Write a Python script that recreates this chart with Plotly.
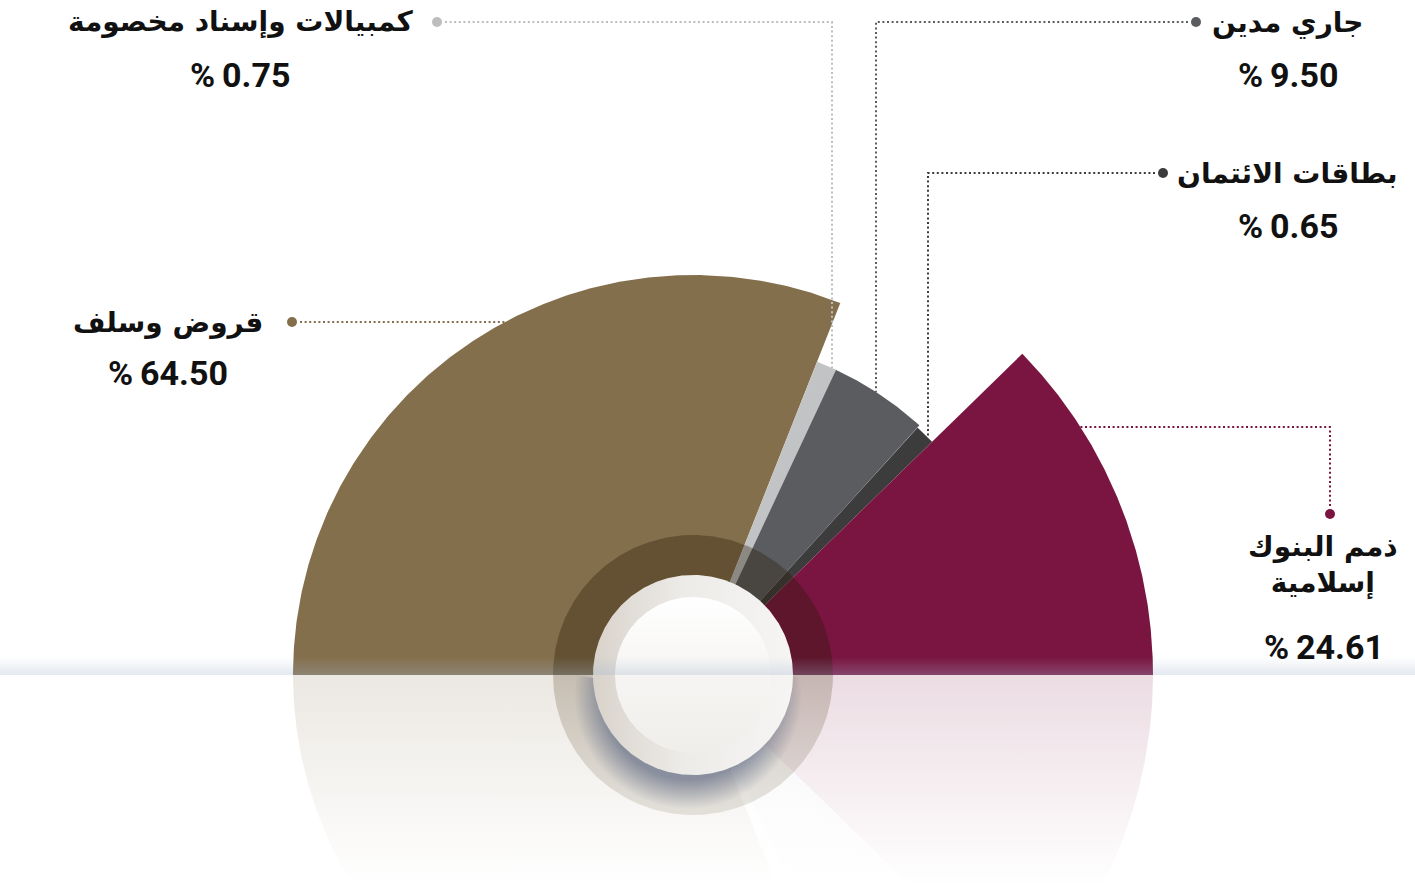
import numpy as np
import plotly.graph_objects as go

# ---------------- data ----------------
categories = ["قروض وسلف", "كمبيالات وإسناد مخصومة", "جاري مدين",
              "بطاقات الائتمان", "ذمم البنوك إسلامية"]
shares = [64.50, 0.75, 9.50, 0.65, 24.61]

# ---------------- style ----------------
W, H = 1415, 886
CX, CY = 693, 675                      # page pixel of the chart centre
colors = ["#846F4C", "#C2C3C5", "#5B5C60", "#3C3C3D", "#7A1541"]
rgb = [(132, 111, 76), (194, 195, 197), (91, 92, 96), (60, 60, 61), (122, 21, 65)]
radii = [400, 337, 337, 334, 460]
refl_alpha = [0.16, 0.05, 0.05, 0.05, 0.15]
MIN_SWEEP = 3.5                        # small slices padded, taken from the largest
REFL_DEPTH = H - CY

# label layout (page px): name centre, value centre, dot, leader elbow
labels_layout = [
    dict(name=(168, 322), value=(168, 373), dot=(292, 322), leader=("h", 322)),
    dict(name=(240, 22), value=(240, 75), dot=(437, 22), leader=("v", 832)),
    dict(name=(1287, 22), value=(1288, 75), dot=(1196, 22), leader=("v", 876)),
    dict(name=(1287, 173), value=(1288, 226), dot=(1163, 173), leader=("v", 928)),
    dict(name=(1323, 565), value=(1324, 647), dot=(1330, 514), leader=("hv", 427)),
]


def P(x, y):
    """page px -> axis units (centre at 0,0, 1 unit = 1 px)"""
    return x - CX, CY - y


# ---------------- angles from the shares ----------------
total = sum(shares)
sweeps = [s / total * 180.0 for s in shares]
pad = sum(max(0.0, MIN_SWEEP - w) for w in sweeps)
sweeps = [max(w, MIN_SWEEP) for w in sweeps]
imax = int(np.argmax(shares))
sweeps[imax] -= pad
starts = [180.0 - sum(sweeps[:i]) for i in range(len(sweeps))]   # screen angle (deg)
ends = [a - w for a, w in zip(starts, sweeps)]


def sector_xy(a0, a1, r, n=240, flip=False):
    t = np.radians(np.linspace(a0, a1, n))
    x = np.concatenate([[0], r * np.cos(t), [0]])
    y = np.concatenate([[0], r * np.sin(t), [0]])
    if flip:
        y = -y
    return x, y


def annulus_xy(a0, a1, r_in, r_out, n=240):
    t = np.radians(np.linspace(a0, a1, n))
    x = np.concatenate([r_out * np.cos(t), r_in * np.cos(t[::-1]), [r_out * np.cos(t[0])]])
    y = np.concatenate([r_out * np.sin(t), r_in * np.sin(t[::-1]), [r_out * np.sin(t[0])]])
    return x, y


def disc_xy(r, cx=0.0, cy=0.0, n=360):
    t = np.radians(np.linspace(0, 360, n))
    return cx + r * np.cos(t), cy + r * np.sin(t)


def rgba(c, a):
    return "rgba(%d,%d,%d,%.3f)" % (c[0], c[1], c[2], a)


fig = go.Figure()


def poly(x, y, fillcolor=None, gradient=None):
    kw = dict(x=x, y=y, mode="lines", fill="toself", line=dict(width=0),
              hoverinfo="skip", showlegend=False)
    if fillcolor is not None:
        kw["fillcolor"] = fillcolor
    if gradient is not None:
        kw["fillgradient"] = gradient
        kw["fillcolor"] = "rgba(0,0,0,0)"
    fig.add_trace(go.Scatter(**kw))


# reflections (mirrored, fading)
for i in range(len(shares)):
    x, y = sector_xy(starts[i], ends[i], radii[i], flip=True)
    poly(x, y, gradient=dict(type="vertical", start=0, stop=-REFL_DEPTH,
                             colorscale=[[0, rgba(rgb[i], refl_alpha[i])],
                                         [1, rgba(rgb[i], 0.0)]]))

# main sectors
for i in range(len(shares)):
    x, y = sector_xy(starts[i], ends[i], radii[i])
    poly(x, y, fillcolor=colors[i])

# dark translucent ring over the upper half
x, y = annulus_xy(0, 180, 100, 140)
poly(x, y, fillcolor="rgba(40,25,5,0.35)")

# reflected ring (lower half)
x, y = annulus_xy(180, 360, 100, 140)
poly(x, y, gradient=dict(type="vertical", start=0, stop=-140,
                         colorscale=[[0, "rgba(120,100,75,0.32)"],
                                     [1, "rgba(150,140,120,0.22)"]]))

# soft blue-grey shadow under the white disc (kept below the horizon)
scx, scy, sR = -5.0, -20.0, 114.0
t = np.radians(np.linspace(168, 372, 240))
sx = np.concatenate([scx + sR * np.cos(t), [scx, scx, scx]])
sy = np.concatenate([np.minimum(scy + sR * np.sin(t), 0), [scy, scy + sR, scy]])
poly(sx, sy, gradient=dict(type="radial",
                           colorscale=[[0, "rgba(105,115,138,0.75)"],
                                       [0.74, "rgba(105,115,138,0.72)"],
                                       [1, "rgba(105,115,138,0)"]]))

# white disc
x, y = disc_xy(100)
poly(x, y, gradient=dict(type="horizontal", start=-100, stop=100,
                         colorscale=[[0, "#D8D2CA"], [0.45, "#EDEBE8"], [1, "#F6F5F4"]]))
x, y = disc_xy(78)
poly(x, y, gradient=dict(type="vertical", start=-78, stop=78,
                         colorscale=[[0, "#EFEEEB"], [0.5, "#F6F5F3"], [1, "#FFFFFF"]]))

# horizon band
bx0, _ = P(0, 0)
bx1, _ = P(W, 0)
poly([bx0, bx1, bx1, bx0, bx0], [0, 0, 18, 18, 0],
     gradient=dict(type="vertical", start=0, stop=18,
                   colorscale=[[0, "rgba(160,180,205,0.30)"], [1, "rgba(160,180,205,0)"]]))

# leader lines, dots and labels
annotations = []
for i, lay in enumerate(labels_layout):
    r = radii[i]
    dxp, dyp = lay["dot"]
    dx, dy = P(dxp, dyp)
    kind, val = lay["leader"]
    if kind == "h":                       # horizontal line to the arc
        _, yy = P(0, val)
        ax = -np.sqrt(r ** 2 - yy ** 2)
        lx, ly = [dx + 8, ax], [yy, yy]
    elif kind == "v":                     # horizontal then down to the arc
        xx, _ = P(val, 0)
        ay = np.sqrt(r ** 2 - xx ** 2)
        step = 8 if dx < xx else -8
        lx, ly = [dx + step, xx, xx], [dy, dy, ay]
    else:                                 # up, then left to the arc
        _, yy = P(0, val)
        ax = np.sqrt(r ** 2 - yy ** 2)
        lx, ly = [dx, dx, ax], [dy + 8, yy, yy]
    lc = colors[i] if i != 1 else "#BDBDBD"
    fig.add_trace(go.Scatter(x=lx, y=ly, mode="lines", hoverinfo="skip", showlegend=False,
                             line=dict(color=lc, width=2, dash="2px,2.6px")))
    fig.add_trace(go.Scatter(x=[dx], y=[dy], mode="markers", hoverinfo="skip", showlegend=False,
                             marker=dict(color=lc, size=10, line=dict(width=0))))

    name = categories[i]
    if i == 4:
        name = "<br>".join(name.rsplit(" ", 1))
    nx, ny = P(*lay["name"])
    annotations.append(dict(x=nx, y=ny, xref="x", yref="y", text=name, showarrow=False,
                            xanchor="center", yanchor="middle", align="center",
                            font=dict(family="DejaVu Sans", size=28, color="#111111",
                                      weight=700)))
    vx, vy = P(*lay["value"])
    annotations.append(dict(x=vx, y=vy, xref="x", yref="y",
                            text="%%\u2009%.2f" % shares[i], showarrow=False,
                            xanchor="center", yanchor="middle",
                            font=dict(family="Roboto", size=34, color="#111111",
                                      weight=700)))

fig.update_layout(
    width=W, height=H, autosize=False,
    margin=dict(l=0, r=0, t=0, b=0),
    paper_bgcolor="white", plot_bgcolor="white",
    xaxis=dict(range=[-CX, W - CX], visible=False, fixedrange=True),
    yaxis=dict(range=[-(H - CY), CY], visible=False, fixedrange=True),
    annotations=annotations,
)

fig.write_html("out.html", config={"displayModeBar": False})
